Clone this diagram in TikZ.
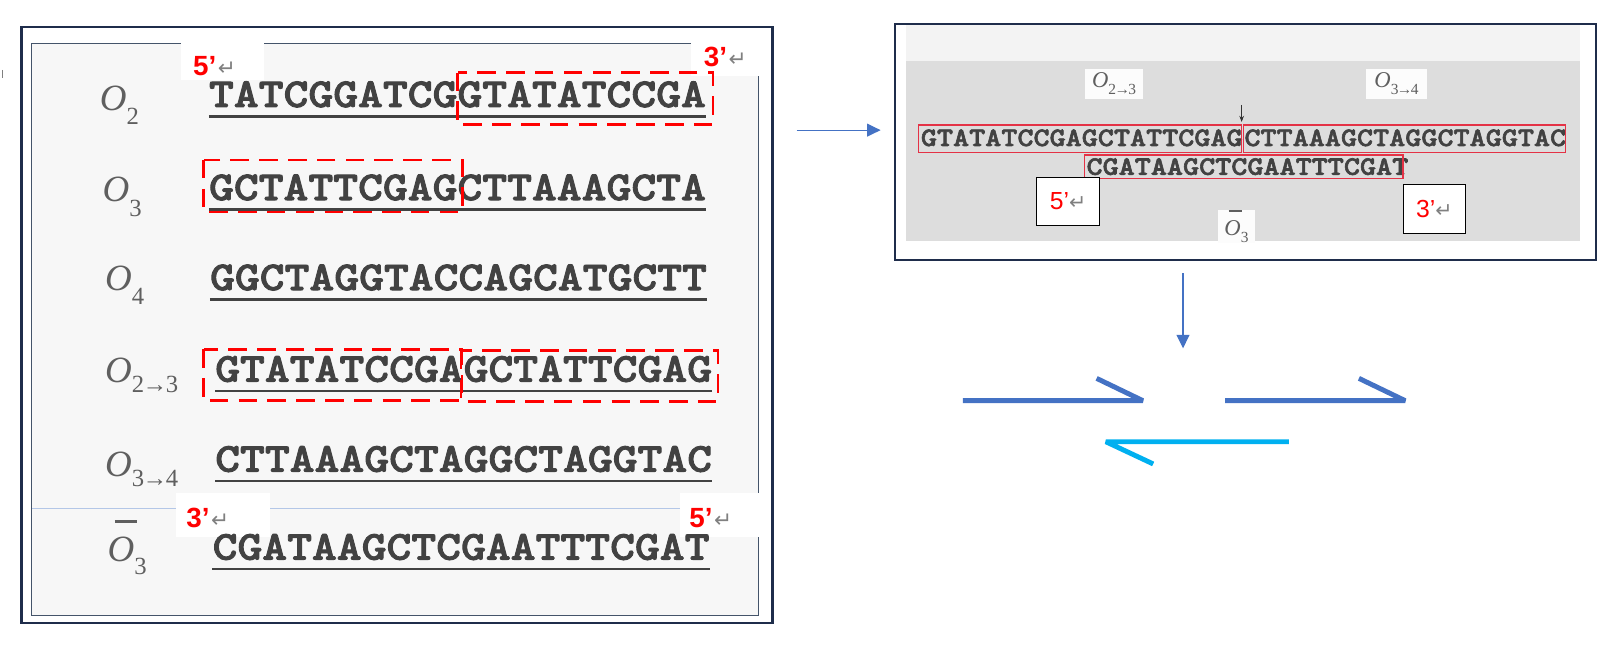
\documentclass[tikz,border=0pt]{standalone}
\usepackage{fontspec}
\usepackage{tikz}
\usetikzlibrary{arrows.meta}
\newfontfamily\seqfont{lmmonolt10-bold}[Extension=.otf, FakeStretch=1.15, FakeBold=2.2]
\newfontfamily\primefont{Liberation Sans}
\newfontfamily\labelfont{Liberation Serif}
\newfontfamily\arrowfont{DejaVu Sans}
\definecolor{navyLine}{RGB}{31,45,75}
\definecolor{frameLine}{RGB}{68,84,106}
\definecolor{thinBlue}{RGB}{180,199,231}
\definecolor{arrowBlue}{RGB}{68,114,196}
\definecolor{strandCyan}{RGB}{0,176,240}
\definecolor{boxRed}{RGB}{228,50,70}
\definecolor{seqGray}{RGB}{66,66,66}
\definecolor{labelGray}{RGB}{95,95,95}
\definecolor{retGray}{RGB}{128,128,128}
\definecolor{pageGray}{RGB}{247,247,247}
\definecolor{bandGray}{RGB}{221,221,221}
\definecolor{topGray}{RGB}{243,243,243}
\newcommand{\retArrow}[1][20]{{\arrowfont\mdseries\fontsize{#1}{#1}\selectfont\color{retGray}↵}}
\newcommand{\oName}[2][14pt]{{\itshape O}\raisebox{-#1}{\fontsize{24}{24}\selectfont #2}}
\newcommand{\oSmall}[1]{{\itshape O}\raisebox{-7pt}{\fontsize{15}{15}\selectfont #1}}
\newcommand{\tto}{\kern-1.5pt→\kern-1.5pt}
\tikzstyle{outerFrame}=[draw=navyLine, line width=2.2pt]
\tikzstyle{innerFrame}=[draw=frameLine, line width=0.9pt]
\tikzstyle{bigSeq}=[font=\seqfont\fontsize{40}{40}\selectfont, text=seqGray, inner sep=0pt, text height=22pt, text depth=0pt, anchor=base west]
\tikzstyle{smallSeq}=[font=\seqfont\fontsize{25.9}{26}\selectfont, text=seqGray, inner sep=0pt, anchor=west]
\tikzstyle{rowLabel}=[font=\labelfont\fontsize{36}{36}\selectfont, text=labelGray, inner sep=0pt, anchor=base west]
\tikzstyle{endLabel}=[font=\primefont\bfseries\fontsize{27}{27}\selectfont, text=red, inner sep=0pt, text depth=0pt, anchor=base west]
\tikzstyle{redDash}=[draw=red, line width=2.6pt, dash pattern=on 18pt off 10pt]
\tikzstyle{redBox}=[draw=boxRed, line width=1.4pt]
\tikzstyle{blueArrow}=[draw=arrowBlue, line width=1.1pt, -{Triangle[length=13pt,width=12.5pt]}]
\tikzstyle{strand}=[line width=4.8pt, line join=bevel]

\begin{document}
\begin{tikzpicture}[x=1pt, y=-1pt]
\tikzstyle{underLine}=[draw=seqGray, line width=2.6pt]
\tikzstyle{smallLabel}=[font=\labelfont\fontsize{22}{22}\selectfont, text=labelGray, fill=white!98!gray, inner sep=0pt, minimum height=29pt]
\tikzstyle{endBox}=[draw=black, line width=1pt, fill=white, inner sep=0pt, minimum width=60.6pt, font=\primefont\fontsize{24}{24}\selectfont]
\useasboundingbox (0,0) rectangle (1568,634);
\draw[gray, line width=1pt] (2,68) -- (2,76);
\fill[pageGray] (31,42) rectangle (737,598);
\draw[thinBlue, line width=1pt] (31,494) -- (661,494);
\draw[innerFrame] (31,42) rectangle (737,598);
\fill[white] (176,36) rectangle (257,78);
\fill[white] (672,36) rectangle (745,73.5);
\fill[white] (171,479.6) rectangle (262.5,521.7);
\fill[white] (661,479.6) rectangle (741,521.7);
\draw[outerFrame] (21,26) rectangle (751,605.7);
\node[rowLabel] (l1) at (97,107) {\oName{2}};
\node[rowLabel] (l2) at (99.6,196) {\oName{3}};
\node[rowLabel] (l3) at (102,282) {\oName{4}};
\node[rowLabel] (l4) at (102,372) {\oName[10pt]{2\tto3}};
\node[rowLabel] (l5) at (102,463) {\oName[10pt]{3\tto4}};
\node[rowLabel] (l6) at (104.5,546) {\rlap{\kern7pt\raisebox{38pt}{\rule{21pt}{2.2pt}}}\oName[12pt]{3}};
\node[bigSeq] (s1) at (203,104) {TATCGGATCGGTATATCCGA};
\node[bigSeq] (s2) at (203,194.5) {GCTATTCGAGCTTAAAGCTA};
\node[bigSeq] (s3) at (204,282) {GGCTAGGTACCAGCATGCTT};
\node[bigSeq] (s4) at (209,371) {GTATATCCGAGCTATTCGAG};
\node[bigSeq] (s5) at (209,458.5) {CTTAAAGCTAGGCTAGGTAC};
\node[bigSeq] (s6) at (206.5,544) {CGATAAGCTCGAATTTCGAT};
\foreach \s in {s1,s2,s3,s4,s5,s6}
  \draw[underLine] ([yshift=-9pt]\s.base west) -- ([yshift=-9pt]\s.base east);
\draw[redDash] (445,70.5) rectangle (693,121);
\draw[redDash] (198,155.5) rectangle (449.5,206);
\draw[redDash] (198,339.5) rectangle (449,389.5);
\draw[redDash] (448,341) rectangle (698,390.5);
\node[endLabel] (p1) at (187.5,73) {5’\kern1.5pt\retArrow[21]};
\node[endLabel] (p2) at (684,65) {3’\kern1.5pt\retArrow[21]};
\node[endLabel] (p3) at (181,513) {3’\kern1.5pt\retArrow[21]};
\node[endLabel] (p4) at (670,513) {5’\kern1.5pt\retArrow[21]};
\coordinate (toRight) at (774.5,126.5);
\coordinate (atRight) at (856,126.5);
\draw[blueArrow] (toRight) -- (atRight);
\fill[topGray] (881,24.5) rectangle (1536,59);
\fill[bandGray] (881,59) rectangle (1536,234);
\draw[outerFrame] (870,23.3) rectangle (1551.5,252.7);
\node[smallLabel, minimum width=56pt] (q1) at (1083,81.5) {\oSmall{2\tto3}};
\node[smallLabel, minimum width=59pt] (q2) at (1357.5,81.5) {\oSmall{3\tto4}};
\node[smallLabel, minimum width=36pt] (q3) at (1202,220.4) {\rlap{\kern4pt\raisebox{23pt}{\rule{13pt}{1.6pt}}}\oSmall{3}};
\coordinate (cutTop) at (1207,102);
\coordinate (cutTip) at (1207,118.6);
\draw[black!80, line width=0.9pt, -{Stealth[length=6pt,width=4.5pt]}] (cutTop) -- (cutTip);
\node[smallSeq] (r1) at (895,134) {GTATATCCGAGCTATTCGAG};
\node[smallSeq] (r2) at (1209.5,134) {CTTAAAGCTAGGCTAGGTAC};
\node[smallSeq] (r3) at (1056,162) {CGATAAGCTCGAATTTCGAT};
\draw[redBox] (893,121.5) rectangle (1207,148);
\draw[redBox] (1209,121.5) rectangle (1522,148);
\draw[redBox] (1054,150.7) rectangle (1364,173.4);
\node[endBox, minimum height=47.3pt] (b5) at (1038.3,196) {\textcolor{red}{5’}\retArrow};
\node[endBox, minimum height=47.6pt] (b3) at (1394.4,203) {\textcolor{red}{3’}\retArrow};
\coordinate (downTop) at (1150,265.6);
\coordinate (downTip) at (1150,338.6);
\draw[blueArrow] (downTop) -- (downTip);
\coordinate (a1) at (936,389.5);
\coordinate (a2) at (1111,389.5);
\coordinate (a3) at (1066,367.8);
\coordinate (c1) at (1191,389.5);
\coordinate (c2) at (1366,389.5);
\coordinate (c3) at (1321,367.8);
\coordinate (d1) at (1253,429.4);
\coordinate (d2) at (1075,429.4);
\coordinate (d3) at (1121,451);
\draw[strand, draw=arrowBlue] (a1) -- (a2) -- (a3);
\draw[strand, draw=arrowBlue] (c1) -- (c2) -- (c3);
\draw[strand, draw=strandCyan] (d1) -- (d2) -- (d3);
\end{tikzpicture}
\end{document}
